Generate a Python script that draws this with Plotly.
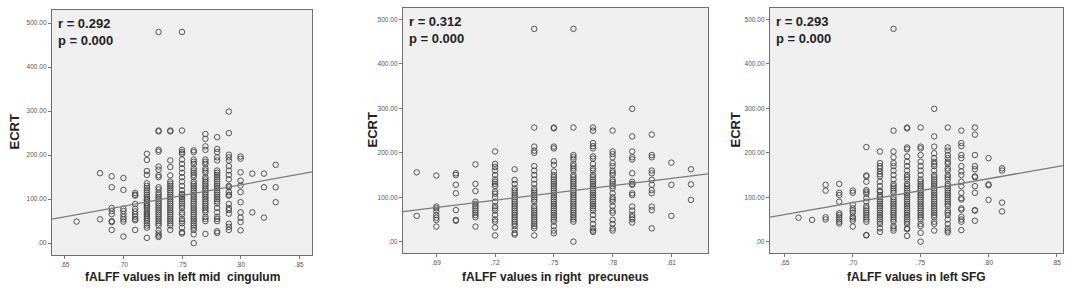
import plotly.graph_objects as go

# ---------------- data ----------------
# Panel 1: fALFF values in left mid cingulum
cing_x = [0.66, 0.68, 0.69, 0.70, 0.71, 0.72, 0.73, 0.74, 0.75, 0.76, 0.77, 0.78, 0.79, 0.80, 0.81, 0.82, 0.83]
cing_y = [
    [49],
    [159, 54],
    [152, 127, 80, 73, 66, 50, 48, 30],
    [148, 121, 78, 73, 66, 59, 54, 49, 15],
    [114, 110, 108, 89, 78, 72, 66, 60, 55, 52, 30],
    [203, 189, 164, 155, 136, 130, 125, 120, 115, 110, 105, 100, 97, 92, 88, 84, 80, 75, 70, 66, 62, 58, 54, 50, 45, 40, 35, 12],
    [480, 256, 254, 212, 208, 174, 167, 154, 150, 127, 122, 115, 110, 105, 100, 95, 90, 85, 80, 75, 70, 65, 60, 55, 50, 45, 40, 29, 22, 17, 14],
    [256, 254, 188, 173, 154, 140, 135, 130, 125, 120, 115, 110, 105, 100, 95, 90, 85, 80, 75, 70, 65, 60, 55, 50, 45, 40, 30],
    [480, 256, 212, 207, 203, 190, 180, 170, 160, 150, 140, 130, 120, 112, 110, 105, 100, 95, 90, 85, 80, 70, 65, 55, 50, 45, 35, 25, 22],
    [211, 207, 190, 185, 180, 170, 165, 160, 155, 150, 140, 135, 130, 125, 120, 115, 110, 105, 100, 95, 90, 85, 80, 75, 70, 65, 60, 55, 50, 45, 40, 35, 30, 20, 0],
    [248, 237, 220, 212, 190, 185, 180, 170, 165, 160, 150, 145, 140, 135, 130, 125, 120, 115, 110, 105, 100, 95, 90, 85, 80, 75, 70, 60, 55, 50, 21],
    [241, 214, 207, 195, 188, 165, 160, 155, 150, 145, 140, 135, 130, 125, 120, 115, 110, 105, 100, 95, 90, 80, 70, 60, 55, 50, 27, 23],
    [299, 250, 201, 195, 188, 175, 165, 155, 145, 130, 127, 116, 110, 108, 89, 80, 75, 67, 44, 37, 30],
    [197, 192, 161, 142, 131, 116, 93, 70, 58, 48, 29],
    [158, 70],
    [158, 127, 58],
    [178, 127, 93],
]

# Panel 2: fALFF values in right precuneus
prec_x = [0.68, 0.69, 0.70, 0.71, 0.72, 0.73, 0.74, 0.75, 0.76, 0.77, 0.78, 0.79, 0.80, 0.81, 0.82]
prec_y = [
    [156, 58],
    [149, 79, 75, 68, 60, 54, 49, 34],
    [154, 150, 128, 109, 71, 49, 47],
    [174, 130, 114, 90, 85, 80, 75, 70, 65, 60, 55, 34],
    [203, 175, 168, 160, 150, 140, 135, 130, 125, 113, 108, 100, 90, 80, 75, 70, 60, 50, 45, 32, 14],
    [163, 139, 130, 120, 115, 110, 105, 100, 95, 90, 85, 80, 75, 70, 65, 60, 55, 50, 45, 40, 35, 27, 19, 16],
    [479, 257, 214, 205, 200, 170, 160, 150, 140, 130, 120, 115, 110, 105, 100, 95, 90, 80, 75, 70, 65, 60, 55, 50, 45, 40, 35, 30, 14],
    [257, 255, 214, 210, 181, 173, 158, 150, 145, 140, 135, 130, 125, 120, 115, 110, 105, 100, 95, 90, 85, 80, 75, 70, 65, 60, 55, 50, 45, 35, 25, 19],
    [479, 257, 195, 190, 185, 175, 170, 165, 160, 150, 145, 140, 135, 130, 125, 120, 115, 110, 105, 100, 95, 90, 85, 80, 75, 70, 65, 60, 55, 50, 45, 0],
    [257, 250, 222, 215, 210, 192, 187, 175, 165, 160, 150, 145, 140, 135, 130, 125, 120, 115, 110, 105, 100, 95, 90, 85, 80, 75, 70, 60, 50, 40, 30, 25, 22],
    [250, 203, 197, 190, 177, 170, 160, 155, 150, 140, 135, 130, 125, 120, 109, 100, 95, 90, 80, 70, 65, 49, 40, 30, 25],
    [299, 237, 203, 190, 185, 154, 135, 130, 128, 109, 105, 79, 70, 60, 55, 50, 43],
    [241, 195, 190, 160, 154, 139, 128, 116, 109, 79, 71, 30],
    [178, 128, 58],
    [163, 129, 94],
]

# Panel 3: fALFF values in left SFG
sfg_x = [0.66, 0.67, 0.68, 0.69, 0.70, 0.71, 0.72, 0.73, 0.74, 0.75, 0.76, 0.77, 0.78, 0.79, 0.80, 0.81]
sfg_y = [
    [54],
    [49],
    [128, 115, 55, 50],
    [130, 110, 105, 90, 64, 60, 55, 50, 45, 41],
    [115, 110, 83, 75, 70, 65, 56, 52, 47, 34],
    [213, 149, 147, 135, 116, 112, 108, 98, 90, 80, 75, 70, 65, 60, 55, 50, 45, 15, 14],
    [203, 177, 170, 165, 158, 152, 147, 135, 125, 115, 112, 105, 100, 95, 90, 85, 80, 75, 70, 65, 60, 55, 50, 45, 40, 30, 22],
    [479, 250, 203, 190, 177, 170, 160, 150, 140, 130, 125, 120, 115, 110, 100, 95, 90, 85, 80, 75, 70, 65, 60, 55, 50, 45, 35, 30, 25],
    [257, 255, 212, 208, 192, 180, 170, 160, 150, 145, 140, 130, 125, 120, 115, 110, 105, 100, 95, 90, 85, 80, 75, 70, 65, 60, 55, 50, 45, 40, 30, 28, 13],
    [257, 214, 210, 195, 180, 170, 160, 150, 140, 135, 130, 125, 120, 115, 110, 105, 100, 95, 90, 85, 80, 75, 70, 65, 60, 55, 50, 40, 35, 20, 0],
    [299, 237, 214, 199, 188, 180, 175, 170, 160, 150, 145, 140, 135, 130, 125, 120, 115, 110, 105, 100, 95, 90, 85, 80, 75, 70, 65, 60, 55, 45, 40, 25],
    [257, 212, 205, 195, 188, 180, 175, 165, 160, 150, 145, 140, 130, 125, 120, 115, 110, 105, 100, 95, 90, 85, 80, 70, 65, 60, 50, 40, 30, 25, 21],
    [250, 222, 215, 195, 188, 170, 158, 150, 135, 125, 110, 98, 95, 75, 72, 56, 50, 45, 26],
    [257, 241, 195, 170, 163, 147, 145, 125, 110, 71, 70, 47],
    [188, 129, 127, 94],
    [165, 160, 88, 68],
]

# Linear fit lines (intercept, slope)
fit_intercept = [-254.8, -299.8, -289.4]
fit_slope = [484.0, 546.0, 539.0]

stats_r = ["0.292", "0.312", "0.293"]
stats_p = ["0.000", "0.000", "0.000"]

x_titles = ["fALFF values in left mid\u00a0 cingulum",
            "fALFF values in right\u00a0 precuneus",
            "fALFF values in left SFG"]
y_title = "ECRT"

x_ticks = [[0.65, 0.70, 0.75, 0.80, 0.85],
           [0.69, 0.72, 0.75, 0.78, 0.81],
           [0.65, 0.70, 0.75, 0.80, 0.85]]
x_ticktext = [[".65", ".70", ".75", ".80", ".85"],
              [".69", ".72", ".75", ".78", ".81"],
              [".65", ".70", ".75", ".80", ".85"]]
y_ticks = [0, 100, 200, 300, 400, 500]
y_ticktext = [".00", "100.00", "200.00", "300.00", "400.00", "500.00"]

# ---------------- layout geometry ----------------
W, H = 1084, 294
boxes = [  # left, right, top, bottom in pixels
    (52, 312, 10, 255),
    (403, 708, 8, 253),
    (770, 1063, 8, 253),
]
x_ranges = [[0.639, 0.861], [0.673, 0.8287], [0.639, 0.8549]]
y_ranges = [[-27, 530], [-25.5, 526], [-25.5, 526]]
ytitle_x = [14, 372, 735]

panels = [(cing_x, cing_y), (prec_x, prec_y), (sfg_x, sfg_y)]

fig = go.Figure()
FONT = "Liberation Sans, Arial, sans-serif"

for i, (cx, cy) in enumerate(panels):
    xs, ys = [], []
    for xv, col in zip(cx, cy):
        for yv in col:
            xs.append(xv)
            ys.append(yv)
    ax = "" if i == 0 else str(i + 1)
    fig.add_trace(go.Scatter(
        x=xs, y=ys, mode="markers", xaxis="x" + ax, yaxis="y" + ax,
        marker=dict(symbol="circle-open", size=5.5, color="#444444", line=dict(width=0.9)),
        showlegend=False, hoverinfo="skip"))
    x0, x1 = x_ranges[i]
    fig.add_trace(go.Scatter(
        x=[x0, x1],
        y=[fit_intercept[i] + fit_slope[i] * x0, fit_intercept[i] + fit_slope[i] * x1],
        mode="lines", xaxis="x" + ax, yaxis="y" + ax,
        line=dict(color="#7a7a7a", width=1.3), showlegend=False, hoverinfo="skip"))

    l, r, t, b = boxes[i]
    xd = [l / W, r / W]
    yd = [(H - b) / H, (H - t) / H]
    common = dict(showline=True, linecolor="#6e6e6e", linewidth=1.4, mirror=True,
                  showgrid=False, zeroline=False, ticks="outside", ticklen=3,
                  tickcolor="#777", tickwidth=1,
                  tickfont=dict(family=FONT, size=6.5, color="#555"))
    fig.update_layout(**{
        "xaxis" + ax: dict(domain=xd, range=x_ranges[i], anchor="y" + ax,
                           tickvals=x_ticks[i], ticktext=x_ticktext[i],
                           **common),
        "yaxis" + ax: dict(domain=yd, range=y_ranges[i], anchor="x" + ax,
                           tickvals=y_ticks, ticktext=y_ticktext,
                           **common),
    })
    # x-axis title
    fig.add_annotation(
        xref="paper", yref="paper", x=(l + r) / 2 / W, y=(H - 277) / H,
        xanchor="center", yanchor="middle", showarrow=False,
        text="<b>" + x_titles[i] + "</b>",
        font=dict(family=FONT, size=12, color="#222"))
    # y-axis title
    fig.add_annotation(
        xref="paper", yref="paper", x=ytitle_x[i] / W, y=(H - (t + b) / 2) / H,
        xanchor="center", yanchor="middle", showarrow=False, textangle=-90,
        text="<b>" + y_title + "</b>",
        font=dict(family=FONT, size=13, color="#222"))
    # statistics
    fig.add_annotation(
        xref="paper", yref="paper", x=(l + 4) / W, y=(H - t - 4) / H,
        xanchor="left", yanchor="top", align="left", showarrow=False,
        text="<b>r = " + stats_r[i] + "<br>p = " + stats_p[i] + "</b>",
        font=dict(family=FONT, size=13, color="#222"))

fig.update_layout(
    width=W, height=H, margin=dict(l=0, r=0, t=0, b=0),
    paper_bgcolor="white", plot_bgcolor="#efefef",
)

fig.write_html("out.html", config={"displayModeBar": False},
               post_script="document.body.style.margin='0px';document.body.style.padding='0px';")
